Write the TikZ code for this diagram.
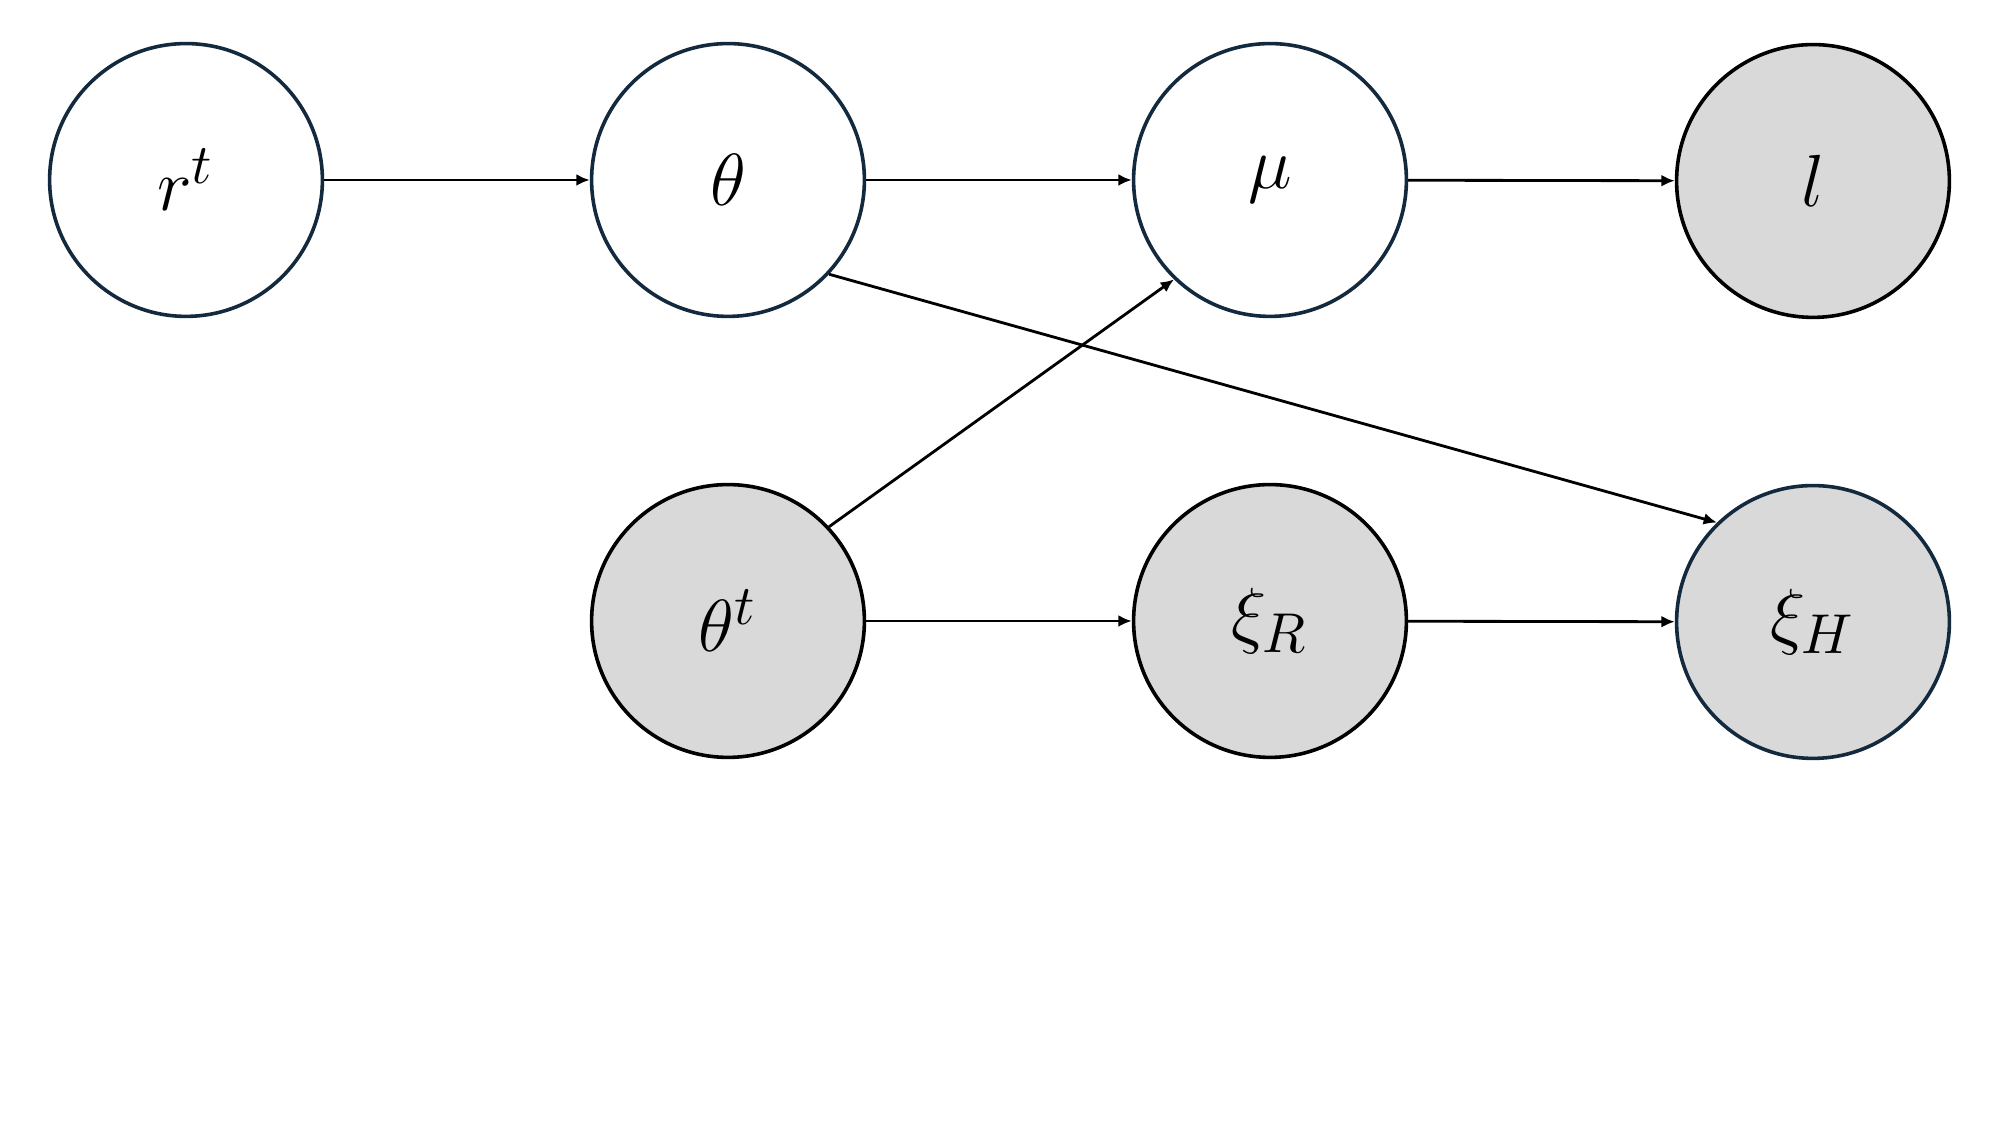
\documentclass[tikz,border=0pt]{standalone}
\usetikzlibrary{arrows.meta}
\definecolor{navy}{HTML}{13293D}
\definecolor{obsgray}{HTML}{D9D9D9}
\begin{document}
\begin{tikzpicture}[x=0.195pt,y=-0.195pt,
  var/.style={circle,minimum size=53.2pt,inner sep=0pt,line width=0.7pt,draw=navy,fill=white,font=\fontsize{15}{18}\selectfont},
  obs/.style={var,fill=obsgray},
  obsk/.style={obs,draw=black},
  edge/.style={line width=0.55pt,-{Latex[length=2.6pt,width=2.3pt]}}]
\useasboundingbox (0,0) rectangle (2000,1125);
\node[var] (rt) at (186,180) {$r^t$};
\node[var] (th) at (728,180) {$\theta$};
\node[var] (mu) at (1270,180) {$\mu$};
\node[obsk] (l) at (1813,181) {$l$};
\node[obsk] (tht) at (728,621) {$\theta^t$};
\node[obsk] (xiR) at (1270,621) {$\xi_R$};
\node[obs] (xiH) at (1813,622) {$\xi_H$};
\draw[edge] (rt) -- (th);
\draw[edge] (th) -- (mu);
\draw[edge] (mu) -- (l);
\draw[edge] (tht) -- (xiR);
\draw[edge] (xiR) -- (xiH);
\draw[edge] (th.-43) -- (xiH.134);
\draw[edge] (tht.43) -- (mu.226);
\end{tikzpicture}
\end{document}
